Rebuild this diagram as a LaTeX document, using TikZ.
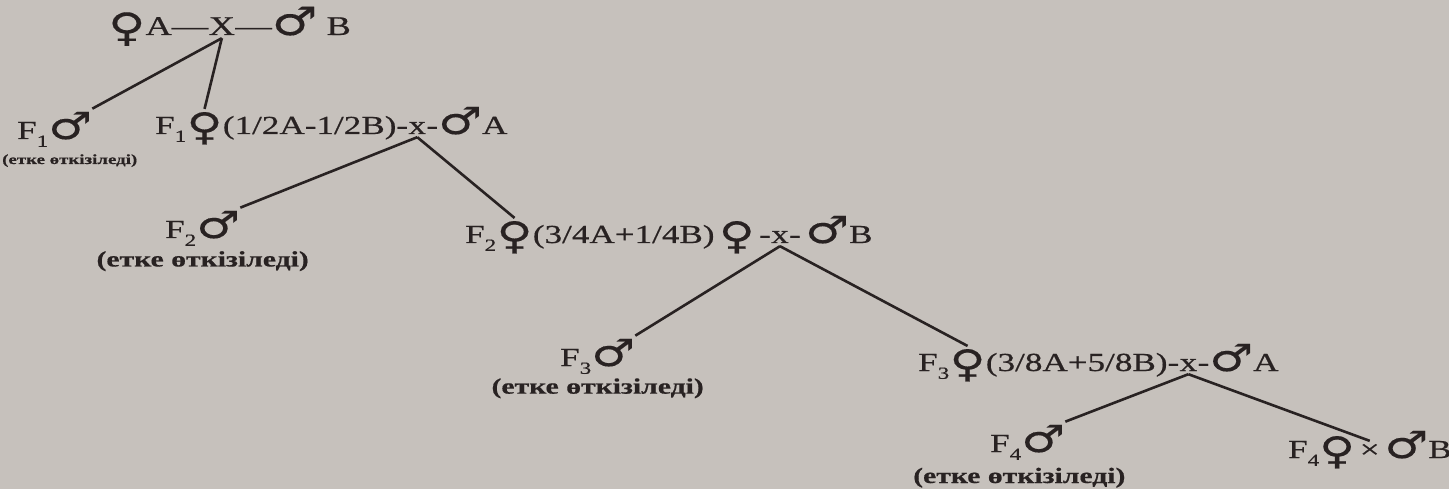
\documentclass[tikz,border=0pt]{standalone}
\usepackage{fontspec}
\setmainfont{Liberation Serif}[FakeStretch=1.35,FakeBold=0.6]
\newfontfamily\gfont{DejaVu Sans}[FakeStretch=1.3,Scale=1.45,FakeBold=0.3]
\usetikzlibrary{positioning}
\definecolor{paper}{RGB}{198,193,188}
\definecolor{ink}{RGB}{40,34,34}
\newcommand{\fem}{\raisebox{-0.22em}{\gfont ♀}}
\newcommand{\mal}{{\gfont ♂}}
\newcommand{\gsub}[1]{\raisebox{-0.3em}{\fontsize{17}{17}\selectfont #1}}
\tikzset{
  parent/.style={anchor=base west, inner xsep=0pt, inner ysep=3pt, text=ink,
                 font=\fontsize{27}{31}\selectfont},
  gen/.style   ={anchor=base west, inner xsep=0pt, inner ysep=3pt, text=ink,
                 font=\fontsize{26}{30}\selectfont},
  note/.style  ={inner sep=0pt, text=ink, font=\bfseries\fontsize{22}{25}\selectfont},
  link/.style  ={draw=ink, line width=2.6pt}
}
\begin{document}
\begin{tikzpicture}[x=1pt, y=-1pt]
\useasboundingbox (0,0) rectangle (1449,489);
\fill[paper] (0,0) rectangle (1449,489);

\node[parent] (p0a) at (108,35) {\fem A—};
\node[parent, base right=0pt of p0a] (p0x) {X};
\node[parent, base right=0pt of p0x] (p0b) {—\mal\ B};

\node[gen] (f1m) at (17,139) {F\gsub{1}\mal};
\node[note, font=\bfseries\fontsize{14}{16}\selectfont, anchor=base west] (f1n) at (2,164) {(етке өткізіледі)};
\node[gen] (f1a) at (155,134) {F\gsub{1}};
\node[gen, base right=0pt of f1a] (f1f) {\fem};
\node[gen, base right=0pt of f1f] (f1b) {(1/2A-1/2B)-};
\node[gen, base right=0pt of f1b] (f1x) {x};
\node[gen, base right=0pt of f1x] (f1c) {-\mal A};

\node[gen] (f2m) at (165,238) {F\gsub{2}\mal};
\node[note, below=2pt of f2m] (f2n) {(етке өткізіледі)};
\node[gen] (f2a) at (465,243) {F\gsub{2}};
\node[gen, base right=0pt of f2a] (f2f) {\fem};
\node[gen, base right=0pt of f2f] (f2b) {(3/4A+1/4B)\,\fem\,-};
\node[gen, base right=0pt of f2b] (f2x) {x};
\node[gen, base right=0pt of f2x] (f2c) {-\,\mal B};

\node[gen] (f3m) at (560,366) {F\gsub{3}\mal};
\node[note, below=1pt of f3m] (f3n) {(етке өткізіледі)};
\node[gen] (f3a) at (918,371) {F\gsub{3}};
\node[gen, base right=0pt of f3a] (f3f) {\fem};
\node[gen, base right=0pt of f3f] (f3b) {(3/8A+5/8B)-};
\node[gen, base right=0pt of f3b] (f3x) {x};
\node[gen, base right=0pt of f3x] (f3c) {-\mal A};

\node[gen] (f4m) at (990,452) {F\gsub{4}\mal};
\node[note, anchor=base west] (f4n) at (913,483) {(етке өткізіледі)};
\node[gen] (f4a) at (1288,458) {F\gsub{4}\fem};
\node[gen, base right=0pt of f4a] (f4x) {\,×\,};
\node[gen, base right=0pt of f4x] (f4b) {\mal B};

\draw[link] (p0x.south) -- (f1m.north east);
\draw[link] (p0x.south) -- (f1f.north);
\draw[link] (f1x.south) -- (f2m.north east);
\draw[link] (f1x.south) -- (f2f.north);
\draw[link] (f2x.south) -- (f3m.north east);
\draw[link] (f2x.south) -- (f3f.north);
\draw[link] (f3x.south) -- (f4m.north east);
\draw[link] (f3x.south) -- (f4x.north);
\end{tikzpicture}
\end{document}
